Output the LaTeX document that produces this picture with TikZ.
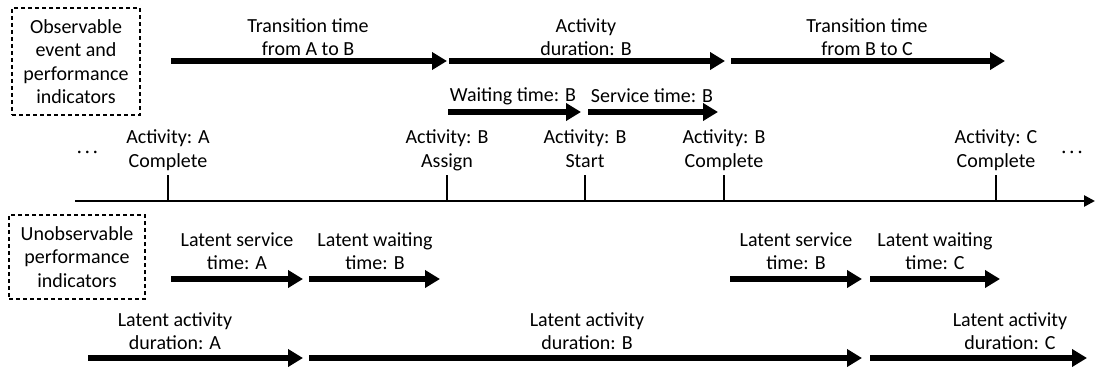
\documentclass[tikz,border=0pt]{standalone}
\usepackage{fontspec}
\setmainfont{Carlito}
\usetikzlibrary{arrows.meta}

\begin{document}
\begin{tikzpicture}[x=1pt,y=-1pt,
  bar/.style={line width=5.5pt,-{Triangle[length=15pt,width=17pt]}},
  axis/.style={line width=2.5pt,-{Triangle[length=11pt,width=11pt]}},
  tick/.style={line width=2pt},
  lbl/.style={align=center,font=\fontsize{20}{23.5}\selectfont,inner sep=0pt},
  evt/.style={lbl,anchor=north},
  dots/.style={font=\fontsize{18}{20}\selectfont,inner sep=0pt},
  legend/.style={draw,dashed,dash pattern=on 4pt off 3pt,line width=1.2pt,
    align=center,font=\fontsize{20}{23.5}\selectfont,inner sep=0pt}]
\useasboundingbox (0,0) rectangle (1095,369);

% legend boxes
\node[legend,minimum width=128pt,minimum height=107pt] (obs) at (76,61.5)
  {Observable\\event and\\performance\\indicators};
\node[legend,minimum width=136pt,minimum height=84pt] (unobs) at (77,257)
  {Unobservable\\performance\\indicators};

% observable intervals
\coordinate (oa1) at (171,61);  \coordinate (oa2) at (447,61);
\coordinate (ob1) at (449,61);  \coordinate (ob2) at (725,61);
\coordinate (oc1) at (731,61);  \coordinate (oc2) at (1005,61);
\draw[bar] (oa1) -- (oa2);
\draw[bar] (ob1) -- (ob2);
\draw[bar] (oc1) -- (oc2);
\node[lbl] (tab) at (308,37) {Transition time\\from A to B};
\node[lbl] (adb) at (586,37) {Activity\\duration: B};
\node[lbl] (tbc) at (867,37) {Transition time\\from B to C};

\coordinate (wa1) at (448,112); \coordinate (wa2) at (581,112);
\coordinate (sv1) at (588,112); \coordinate (sv2) at (718,112);
\draw[bar] (wa1) -- (wa2);
\draw[bar] (sv1) -- (sv2);
\node[lbl] (wtb) at (513,96) {Waiting time: B};
\node[lbl] (stb) at (652,96) {Service time: B};

% time axis with events
\coordinate (ax1) at (75,201); \coordinate (ax2) at (1095,201);
\draw[axis] (ax1) -- (ax2);
\foreach \x/\n in {168/e1,447/e2,585/e3,724/e4,996/e5}{
  \coordinate (\n b) at (\x,201);
  \coordinate (\n t) at (\x,175);
  \draw[tick] (\n b) -- (\n t);
}
\node[evt] (ac) at (168,129.5) {Activity: A\\Complete};
\node[evt] (bas) at (447,129.5) {Activity: B\\Assign};
\node[evt] (bst) at (585,129.5) {Activity: B\\Start};
\node[evt] (bco) at (724,129.5) {Activity: B\\Complete};
\node[evt] (cco) at (996,129.5) {Activity: C\\Complete};
\node[dots] (dl) at (87.5,154) {·\hspace{3.5pt}·\hspace{3.5pt}·};
\node[dots] (dr) at (1072,154) {·\hspace{3.5pt}·\hspace{3.5pt}·};

% latent intervals
\coordinate (ls1) at (171,279); \coordinate (ls2) at (303,279);
\coordinate (lw1) at (309,279); \coordinate (lw2) at (440,279);
\coordinate (ms1) at (730,279); \coordinate (ms2) at (862,279);
\coordinate (mw1) at (870,279); \coordinate (mw2) at (1000,279);
\draw[bar] (ls1) -- (ls2);
\draw[bar] (lw1) -- (lw2);
\draw[bar] (ms1) -- (ms2);
\draw[bar] (mw1) -- (mw2);
\node[lbl] (lsa) at (237,251) {Latent service\\time: A};
\node[lbl] (lwb) at (375,251) {Latent waiting\\time: B};
\node[lbl] (lsb) at (796,251) {Latent service\\time: B};
\node[lbl] (lwc) at (935,251) {Latent waiting\\time: C};

\coordinate (da1) at (88,358);  \coordinate (da2) at (303,358);
\coordinate (db1) at (309,358); \coordinate (db2) at (862,358);
\coordinate (dc1) at (870,358); \coordinate (dc2) at (1087,358);
\draw[bar] (da1) -- (da2);
\draw[bar] (db1) -- (db2);
\draw[bar] (dc1) -- (dc2);
\node[lbl] (lda) at (175,331) {Latent activity\\duration: A};
\node[lbl] (ldb) at (587,331) {Latent activity\\duration: B};
\node[lbl] (ldc) at (1010,331) {Latent activity\\duration: C};
\end{tikzpicture}
\end{document}
